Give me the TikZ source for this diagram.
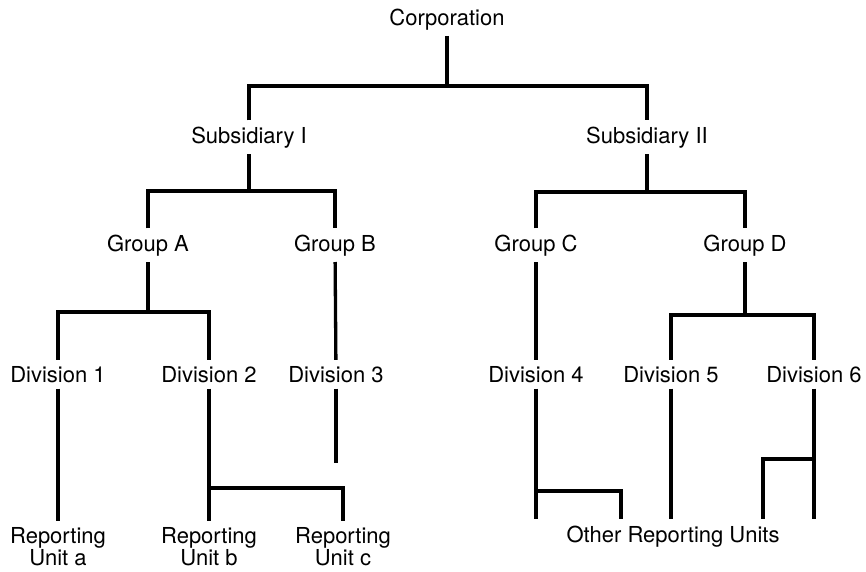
\documentclass[tikz,border=0pt]{standalone}
\usepackage{fontspec}
\setmainfont{TeX Gyre Heros}
\begin{document}
\begin{tikzpicture}[x=1pt,y=-1pt,
    unit/.style={font=\fontsize{22}{22}\selectfont,anchor=base,inner xsep=2pt,inner ysep=6pt,align=center},
    link/.style={line width=3.3pt}]
\useasboundingbox (0,0) rectangle (866,571);

% Marking corporation and subsidiaries
\node[unit] (corp) at (447,25) {Corporation};
\node[unit] (sub1) at (249,143) {Subsidiary I};
\node[unit] (sub2) at (647,143) {Subsidiary II};

% Marking groups
\node[unit] (grpa) at (148,251) {Group A};
\node[unit] (grpb) at (335,251) {Group B};
\node[unit] (grpc) at (536,251) {Group C};
\node[unit] (grpd) at (745,251) {Group D};

% Marking divisions
\node[unit] (div1) at (58,382) {Division 1};
\node[unit] (div2) at (209,382) {Division 2};
\node[unit] (div3) at (336,382) {Division 3};
\node[unit] (div4) at (536,382) {Division 4};
\node[unit] (div5) at (671,382) {Division 5};
\node[unit] (div6) at (814,382) {Division 6};

% Marking reporting units (base is the last line)
\node[unit] (rua) at (58,565) {Reporting\\Unit a};
\node[unit] (rub) at (209,565) {Reporting\\Unit b};
\node[unit] (ruc) at (343,565) {Reporting\\Unit c};
\node[unit] (oru) at (673,542) {Other Reporting Units};

% Junction points
\coordinate (jcorp) at (447,86);
\coordinate (jsub1) at (249,191);
\coordinate (jsub2) at (647,192);
\coordinate (jgrpa) at (148,312);
\coordinate (jgrpd) at (745,315);
\coordinate (jdiv2) at (209,488);
\coordinate (jdiv4) at (536,491);
\coordinate (jdiv6) at (814,459);
\coordinate (div3end) at (336,463);
\coordinate (oru1) at (621,0);
\coordinate (oru2) at (763,0);

% Drawing corporation -- subsidiaries
\draw[link] (corp) -- (jcorp);
\draw[link] (sub1) |- (jcorp) -| (sub2);

% Drawing subsidiaries -- groups
\draw[link] (sub1) -- (jsub1);
\draw[link] (grpa) |- (jsub1) -| (grpb);
\draw[link] (sub2) -- (jsub2);
\draw[link] (grpc) |- (jsub2) -| (grpd);

% Drawing groups -- divisions
\draw[link] (grpa) -- (jgrpa);
\draw[link] (div1) |- (jgrpa) -| (div2);
\draw[link] (grpb) -- (div3);
\draw[link] (grpc) -- (div4);
\draw[link] (grpd) -- (jgrpd);
\draw[link] (div5) |- (jgrpd) -| (div6);

% Drawing divisions -- reporting units
\draw[link] (div1) -- (rua);
\draw[link] (div2) -- (rub);
\draw[link] (jdiv2) -| (ruc);
\draw[link] (div3) -- (div3end);
\draw[link] (div4) -- (div4 |- oru.north);
\draw[link] (jdiv4) -| (oru1 |- oru.north);
\draw[link] (div5) -- (div5 |- oru.north);
\draw[link] (div6) -- (div6 |- oru.north);
\draw[link] (jdiv6) -| (oru2 |- oru.north);
\end{tikzpicture}
\end{document}
